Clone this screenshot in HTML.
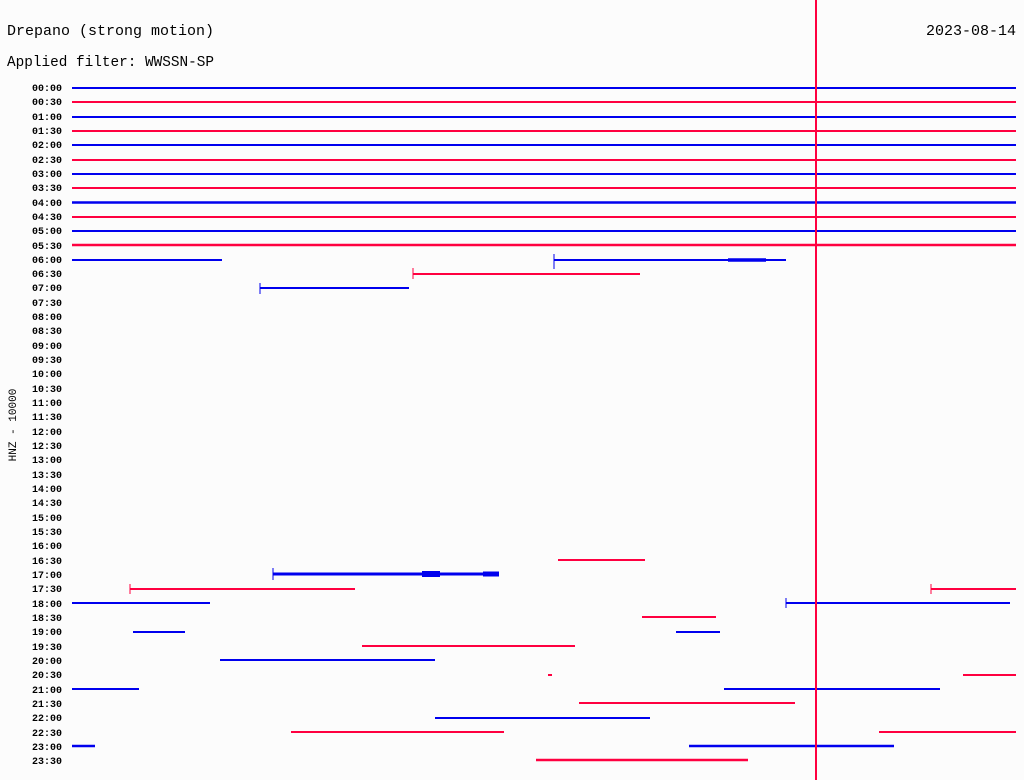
<!DOCTYPE html>
<html><head><meta charset="utf-8"><style>
html,body{margin:0;padding:0;background:#fcfcfc;}
svg{display:block;}
text{font-family:"Liberation Mono",monospace;fill:#000;}
</style></head><body>
<svg width="1024" height="780" viewBox="0 0 1024 780">
<rect width="1024" height="780" fill="#fcfcfc"/>
<text x="7" y="35" font-size="15">Drepano (strong motion)</text>
<text x="1016" y="35" font-size="15" text-anchor="end">2023-08-14</text>
<text x="7" y="66" font-size="15" textLength="207" lengthAdjust="spacingAndGlyphs">Applied filter: WWSSN-SP</text>
<text transform="translate(16,425) rotate(-90)" font-size="11" text-anchor="middle">HNZ - 10000</text>
<g font-size="10" text-anchor="end" font-weight="bold" transform="translate(0,-1)">
<text x="62" y="92">00:00</text><text x="62" y="106">00:30</text><text x="62" y="121">01:00</text><text x="62" y="135">01:30</text><text x="62" y="149">02:00</text><text x="62" y="164">02:30</text><text x="62" y="178">03:00</text><text x="62" y="192">03:30</text><text x="62" y="207">04:00</text><text x="62" y="221">04:30</text><text x="62" y="235">05:00</text><text x="62" y="250">05:30</text><text x="62" y="264">06:00</text><text x="62" y="278">06:30</text><text x="62" y="292">07:00</text><text x="62" y="307">07:30</text><text x="62" y="321">08:00</text><text x="62" y="335">08:30</text><text x="62" y="350">09:00</text><text x="62" y="364">09:30</text><text x="62" y="378">10:00</text><text x="62" y="393">10:30</text><text x="62" y="407">11:00</text><text x="62" y="421">11:30</text><text x="62" y="436">12:00</text><text x="62" y="450">12:30</text><text x="62" y="464">13:00</text><text x="62" y="479">13:30</text><text x="62" y="493">14:00</text><text x="62" y="507">14:30</text><text x="62" y="522">15:00</text><text x="62" y="536">15:30</text><text x="62" y="550">16:00</text><text x="62" y="565">16:30</text><text x="62" y="579">17:00</text><text x="62" y="593">17:30</text><text x="62" y="608">18:00</text><text x="62" y="622">18:30</text><text x="62" y="636">19:00</text><text x="62" y="651">19:30</text><text x="62" y="665">20:00</text><text x="62" y="679">20:30</text><text x="62" y="694">21:00</text><text x="62" y="708">21:30</text><text x="62" y="722">22:00</text><text x="62" y="737">22:30</text><text x="62" y="751">23:00</text><text x="62" y="765">23:30</text>
</g>
<g stroke-width="2" fill="none">
<g stroke="#0000ee">
<line x1="72" y1="88" x2="1016" y2="88"/>
<line x1="72" y1="117" x2="1016" y2="117"/>
<line x1="72" y1="145" x2="1016" y2="145"/>
<line x1="72" y1="174" x2="1016" y2="174"/>
<line x1="72" y1="202.5" x2="1016" y2="202.5" stroke-width="2.5"/>
<line x1="72" y1="231" x2="1016" y2="231"/>
<line x1="72" y1="260" x2="222" y2="260"/>
<line x1="554" y1="260" x2="786" y2="260"/><line x1="554" y1="254" x2="554" y2="269" stroke-width="1"/>
<line x1="728" y1="260" x2="766" y2="260" stroke-width="3.5"/>
<rect x="260" y="287" width="149" height="2" fill="#0000ee" stroke="none"/>
<line x1="260" y1="283" x2="260" y2="294" stroke-width="1"/>
<line x1="273" y1="574" x2="499" y2="574" stroke-width="3"/><line x1="273" y1="568" x2="273" y2="580" stroke-width="1"/>
<line x1="422" y1="574" x2="440" y2="574" stroke-width="6"/>
<line x1="483" y1="574" x2="499" y2="574" stroke-width="5"/>
<line x1="72" y1="603" x2="210" y2="603"/>
<line x1="786" y1="603" x2="1010" y2="603"/><line x1="786" y1="598" x2="786" y2="608" stroke-width="1"/>
<line x1="133" y1="632" x2="185" y2="632"/>
<line x1="676" y1="632" x2="720" y2="632"/>
<line x1="220" y1="660" x2="435" y2="660"/>
<line x1="72" y1="689" x2="139" y2="689"/>
<line x1="724" y1="689" x2="940" y2="689"/>
<line x1="435" y1="718" x2="650" y2="718"/>
<line x1="72" y1="746" x2="95" y2="746" stroke-width="2.5"/>
<line x1="689" y1="746" x2="894" y2="746" stroke-width="2.5"/>
</g>
<g stroke="#ff0040">
<line x1="72" y1="102" x2="1016" y2="102"/>
<line x1="72" y1="131" x2="1016" y2="131"/>
<line x1="72" y1="160" x2="1016" y2="160"/>
<line x1="72" y1="188" x2="1016" y2="188"/>
<line x1="72" y1="217" x2="1016" y2="217"/>
<line x1="72" y1="245" x2="1016" y2="245" stroke-width="2.5"/>
<line x1="413" y1="274" x2="640" y2="274"/><line x1="413" y1="268" x2="413" y2="279" stroke-width="1"/>
<line x1="558" y1="560" x2="645" y2="560"/>
<line x1="130" y1="589" x2="355" y2="589"/><line x1="130" y1="584" x2="130" y2="594" stroke-width="1"/>
<line x1="931" y1="589" x2="1016" y2="589"/><line x1="931" y1="584" x2="931" y2="594" stroke-width="1"/>
<line x1="642" y1="617" x2="716" y2="617"/>
<line x1="362" y1="646" x2="575" y2="646"/>
<line x1="548" y1="675" x2="552" y2="675"/>
<line x1="963" y1="675" x2="1016" y2="675"/>
<line x1="579" y1="703" x2="795" y2="703"/>
<line x1="291" y1="732" x2="504" y2="732"/>
<line x1="879" y1="732" x2="1016" y2="732"/>
<line x1="536" y1="760" x2="748" y2="760" stroke-width="2.5"/>
<line x1="816" y1="0" x2="816" y2="780"/>
</g>
</g>
</svg>
</body></html>
